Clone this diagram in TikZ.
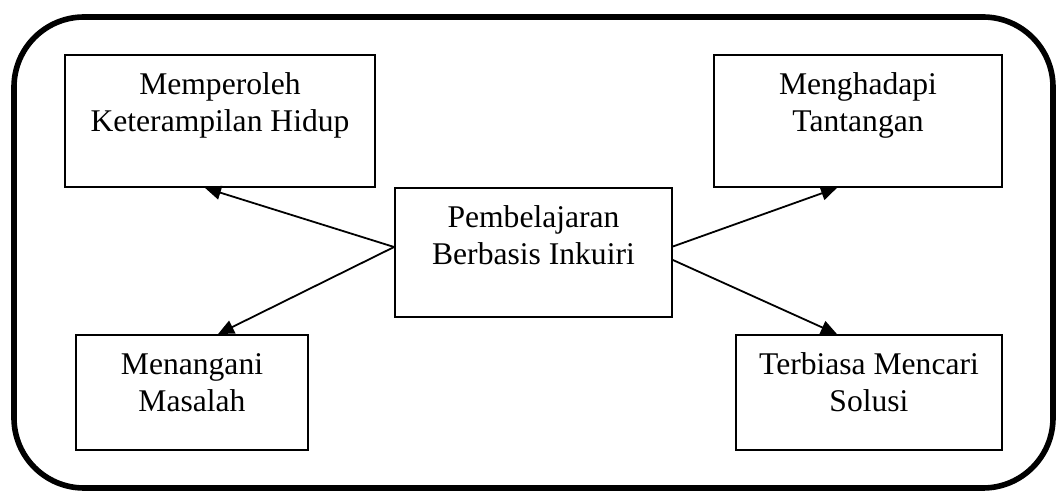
\documentclass[tikz,border=0pt]{standalone}
\usepackage{fontspec}
\setmainfont{Liberation Serif}
\usepackage{tikz}
\usetikzlibrary{arrows.meta}
\tikzset{kotak/.style={draw,line width=0.9pt,rectangle,inner sep=0pt},
  isi/.style={anchor=base,align=center,inner sep=0pt,
    font=\fontsize{15.8}{18.5}\selectfont},
  panah/.style={line width=0.9pt,-{Triangle[length=8pt,width=7pt]}}}

\begin{document}
\begin{tikzpicture}[x=0.5pt,y=-0.5pt]
     \useasboundingbox (0,0) rectangle (1056,491);
     \draw[line width=2.8pt,rounded corners=35pt] (14,17) rectangle (1053,488);
     % kotak
     \node[kotak,minimum width=155pt,minimum height=66pt] (hidup) at (220,121) {};
     \node[kotak,minimum width=144pt,minimum height=66pt] (tantangan) at (858,121) {};
     \node[kotak,minimum width=138.5pt,minimum height=64.5pt] (inkuiri) at (533.5,252.5) {};
     \node[kotak,minimum width=116pt,minimum height=57.5pt] (masalah) at (192,392.5) {};
     \node[kotak,minimum width=133pt,minimum height=57.5pt] (solusi) at (869,392.5) {};
     % teks (baseline of the second line)
     \node[isi] (thidup) at ([yshift=-38.5pt]hidup.north) {Memperoleh\\Keterampilan Hidup};
     \node[isi] (ttantangan) at ([yshift=-38.5pt]tantangan.north) {Menghadapi\\Tantangan};
     \node[isi] (tinkuiri) at ([yshift=-38.5pt]inkuiri.north) {Pembelajaran\\Berbasis Inkuiri};
     \node[isi] (tmasalah) at ([yshift=-38.5pt]masalah.north) {Menangani\\Masalah};
     \node[isi] (tsolusi) at ([yshift=-38.5pt]solusi.north) {Terbiasa Mencari\\Solusi};
     % panah
     \draw[panah] ([yshift=2.75pt]inkuiri.west) -- ([xshift=-7.5pt]hidup.south);
     \draw[panah] ([yshift=2.75pt]inkuiri.west) -- ([xshift=13pt]masalah.north);
     \draw[panah] ([yshift=3pt]inkuiri.east) -- ([xshift=-10.5pt]tantangan.south);
     \draw[panah] ([yshift=-3.75pt]inkuiri.east) -- ([xshift=-16pt]solusi.north);
\end{tikzpicture}
\end{document}
